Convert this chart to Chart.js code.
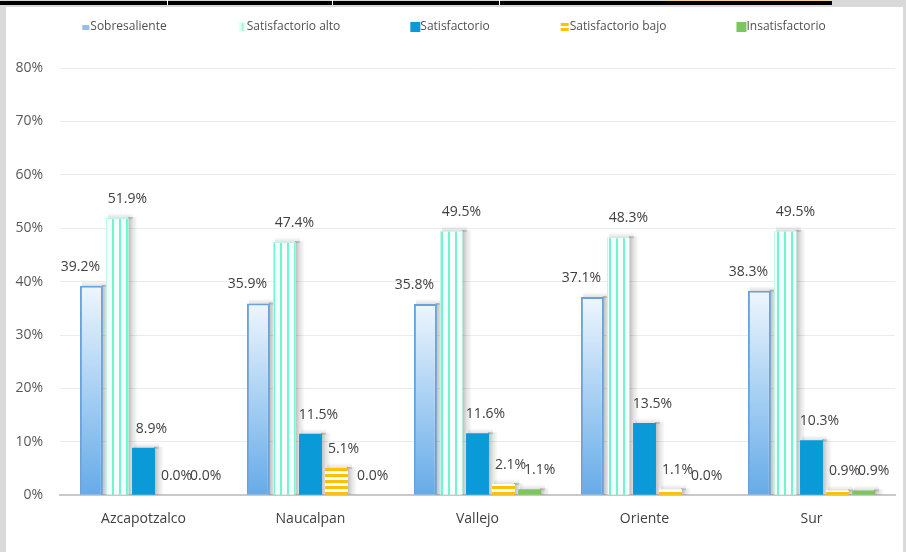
<!DOCTYPE html>
<html>
<head>
<meta charset="utf-8">
<script src="https://cdn.jsdelivr.net/npm/chart.js@4"></script>
<style>
  html, body { margin: 0; padding: 0; background: #ffffff; }
  #wrap { position: relative; width: 906px; height: 552px; overflow: hidden; }
  #c { position: absolute; left: 0; top: 0; }
  .fr { position: absolute; }
</style>
</head>
<body>
<div id="wrap">
  <canvas id="c" width="906" height="552"></canvas>
  <div class="fr" style="left:0;top:0;width:906px;height:7px;background:#d9d9d9"></div>
  <div class="fr" style="left:0;top:1px;width:832px;height:4px;background:#000"></div>
  <div class="fr" style="left:167px;top:0;width:1px;height:5px;background:#fff"></div>
  <div class="fr" style="left:332px;top:0;width:1px;height:5px;background:#fff"></div>
  <div class="fr" style="left:499px;top:0;width:1px;height:5px;background:#fff"></div>
  <div class="fr" style="left:667px;top:0;width:161px;height:1px;background:#f2d58c"></div>
  <div class="fr" style="left:0;top:7px;width:6px;height:545px;background:#d9d9d9"></div>
  <div class="fr" style="left:903px;top:7px;width:3px;height:545px;background:#d9d9d9"></div>
</div>
<script>
const categories = ['Azcapotzalco', 'Naucalpan', 'Vallejo', 'Oriente', 'Sur'];
const seriesNames = ['Sobresaliente', 'Satisfactorio alto', 'Satisfactorio', 'Satisfactorio bajo', 'Insatisfactorio'];
const sobresaliente = [39.2, 35.9, 35.8, 37.1, 38.3];
const satisfactorioAlto = [51.9, 47.4, 49.5, 48.3, 49.5];
const satisfactorio = [8.9, 11.5, 11.6, 13.5, 10.3];
const satisfactorioBajo = [0.0, 5.1, 2.1, 1.1, 0.9];
const insatisfactorio = [0.0, 0.0, 1.1, 0.0, 0.9];
const yMax = 80;
const yStep = 10;

const FONT = "'Open Sans', 'Noto Sans', sans-serif";

function makePattern(w, h, draw) {
  const c = document.createElement('canvas');
  c.width = w; c.height = h;
  const x = c.getContext('2d');
  draw(x);
  return x.createPattern(c, 'repeat');
}
const ctxMain = document.getElementById('c').getContext('2d');
const vStripe = makePattern(7, 6, x => {
  x.fillStyle = '#f4fffc'; x.fillRect(0, 0, 7, 6);
  x.fillStyle = '#6ff5cf'; x.fillRect(0, 0, 2, 6);
});
const hStripe = makePattern(6, 6, x => {
  x.fillStyle = '#ffffff'; x.fillRect(0, 0, 6, 6);
  x.fillStyle = '#ffc000'; x.fillRect(0, 0, 6, 3);
});

function sobGradient(ctx) {
  const chart = ctx.chart;
  const area = chart.chartArea;
  if (!area || ctx.type !== 'data') return '#9cc8f0';
  const y0 = chart.scales.y.getPixelForValue(0);
  const y1 = chart.scales.y.getPixelForValue(ctx.raw);
  const g = chart.ctx.createLinearGradient(0, y1, 0, y0);
  g.addColorStop(0, '#eef6fd');
  g.addColorStop(0.5, '#a8d0f3');
  g.addColorStop(1, '#66abe8');
  return g;
}

const legendColors = ['#8fc0ee', '#c8fff0', '#0a9ad8', '#ffc000', '#7dc65f'];
const labelOffsets = [-11, 10, 8, 7, 10];

// soft drop shadow drawn from each bar element's own geometry
const shadowPlugin = {
  id: 'barShadow',
  beforeDatasetsDraw(chart) {
    const c = chart.ctx;
    c.save();
    chart.data.datasets.forEach((ds, i) => {
      const meta = chart.getDatasetMeta(i);
      meta.data.forEach((bar, j) => {
        if (!ds.data[j]) return;
        const p = bar.getProps(['x', 'y', 'base', 'width'], true);
        const right = p.x + p.width / 2;
        const top = Math.min(p.y, p.base);
        const h = Math.abs(p.base - p.y);
        const sw = 9;
        const g = c.createLinearGradient(right - 1, 0, right + sw, 0);
        g.addColorStop(0, 'rgba(0,0,0,0.28)');
        g.addColorStop(0.5, 'rgba(0,0,0,0.10)');
        g.addColorStop(1, 'rgba(0,0,0,0)');
        c.fillStyle = g;
        c.fillRect(right - 1, top - 1, sw + 1, h + 1);
        const g2 = c.createLinearGradient(0, top - 5, 0, top + 1);
        g2.addColorStop(0, 'rgba(0,0,0,0)');
        g2.addColorStop(1, 'rgba(0,0,0,0.14)');
        c.fillStyle = g2;
        c.fillRect(p.x - p.width / 2 + 2, top - 5, p.width + 2, 6);
      });
    });
    c.restore();
  }
};

const labelPlugin = {
  id: 'vlabels',
  afterDatasetsDraw(chart) {
    const c = chart.ctx;
    c.save();
    c.font = '14px ' + FONT;
    c.fillStyle = '#404040';
    c.textAlign = 'center';
    c.textBaseline = 'middle';
    chart.data.datasets.forEach((ds, i) => {
      const meta = chart.getDatasetMeta(i);
      meta.data.forEach((bar, j) => {
        const v = ds.data[j];
        c.fillText(v.toFixed(1) + '%', bar.x + labelOffsets[i], bar.y - 19);
      });
    });
    c.restore();
  }
};

const legendPlugin = {
  id: 'customLegend',
  afterDraw(chart) {
    const c = chart.ctx;
    c.save();
    c.font = '12px ' + FONT;
    c.textBaseline = 'middle';
    const box = 9, gapBox = 1, gap = 70;
    const widths = seriesNames.map(n => box + gapBox + c.measureText(n).width);
    const total = widths.reduce((a, b) => a + b, 0) + gap * (seriesNames.length - 1);
    let x = (chart.width - total) / 2;
    const y = 27;
    seriesNames.forEach((n, i) => {
      if (i === 0) {
        c.fillStyle = '#8fc0ee'; c.fillRect(x + 2, y - 2, 7, 5);
      } else if (i === 1) {
        c.fillStyle = '#e6fff6'; c.fillRect(x + 2, y - 5, 7, 10);
        c.fillStyle = '#9ff7de'; c.fillRect(x + 5, y - 4, 2, 8);
      } else if (i === 3) {
        c.fillStyle = '#ffc000'; c.fillRect(x + 1, y - 4, 8, 3); c.fillRect(x + 1, y + 1, 8, 3);
      } else {
        c.fillStyle = legendColors[i]; c.fillRect(x, y - 5, 10, 10);
      }
      c.fillStyle = '#505050';
      c.textAlign = 'left';
      c.fillText(n, x + box + gapBox, y);
      x += widths[i] + gap;
    });
    c.restore();
  }
};

new Chart(ctxMain, {
  type: 'bar',
  data: {
    labels: categories,
    datasets: [
      { label: seriesNames[0], data: sobresaliente, backgroundColor: sobGradient, borderColor: '#6aa2db', borderWidth: 2 },
      { label: seriesNames[1], data: satisfactorioAlto, backgroundColor: vStripe, borderColor: 'rgba(190,245,230,0.9)', borderWidth: 1 },
      { label: seriesNames[2], data: satisfactorio, backgroundColor: '#0a9ad8', borderWidth: 0 },
      { label: seriesNames[3], data: satisfactorioBajo, backgroundColor: hStripe, borderWidth: 0 },
      { label: seriesNames[4], data: insatisfactorio, backgroundColor: '#7dc65f', borderWidth: 0 }
    ]
  },
  options: {
    responsive: false,
    animation: false,
    devicePixelRatio: 1,
    layout: { padding: { top: 68, right: 11, bottom: 18, left: 0 } },
    datasets: { bar: { categoryPercentage: 0.78, barPercentage: 0.88 } },
    plugins: { legend: { display: false }, tooltip: { enabled: false } },
    scales: {
      x: {
        grid: { display: false },
        border: { display: true, color: '#c9c9c9', width: 2 },
        ticks: { color: '#404040', font: { family: FONT, size: 14 }, padding: 7 }
      },
      y: {
        min: 0, max: yMax,
        afterFit(scale) { scale.width = 60; },
        grid: { color: '#ebebeb', lineWidth: 1, drawTicks: false },
        border: { display: false },
        ticks: {
          stepSize: yStep,
          color: '#595959',
          font: { family: FONT, size: 14 },
          padding: 17,
          callback: v => v + '%'
        }
      }
    }
  },
  plugins: [shadowPlugin, labelPlugin, legendPlugin]
});
</script>
</body>
</html>
